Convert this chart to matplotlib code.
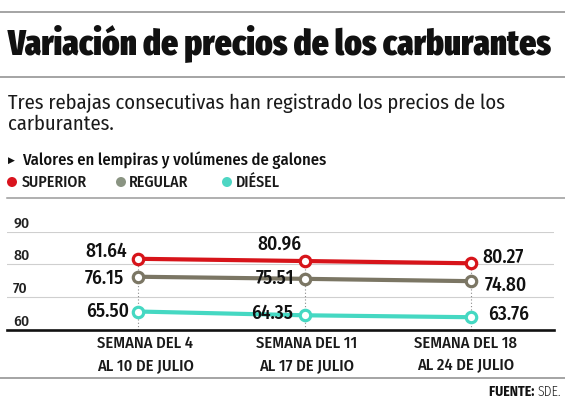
import matplotlib
matplotlib.use("Agg")
import matplotlib.pyplot as plt
from matplotlib.lines import Line2D
from matplotlib.patches import Ellipse

# ---------------- data ----------------
weeks = ["SEMANA DEL 4\nAL 10 DE JULIO", "SEMANA DEL 11\nAL 17 DE JULIO", "SEMANA DEL 18\nAL 24 DE JULIO"]
superior = [81.64, 80.96, 80.27]
regular = [76.15, 75.51, 74.80]
diesel = [65.50, 64.35, 63.76]
y_ticks = [60, 70, 80, 90]
series_names = ["SUPERIOR", "REGULAR", "DIÉSEL"]

title = "Variación de precios de los carburantes"
subtitle1 = "Tres rebajas consecutivas han registrado los precios de los"
subtitle2 = "carburantes."
units = "Valores en lempiras y volúmenes de galones"

# ---------------- style ----------------
FONT_T = ["Fira Sans Extra Condensed", "DejaVu Sans"]
FONT = ["Fira Sans Condensed", "DejaVu Sans"]

line_colors = ["#D7141A", "#7B7664", "#45D8C2"]
legend_colors = ["#D9141E", "#8A9482", "#4ED6C3"]

W, H = 565, 400
fig = plt.figure(figsize=(W / 100, H / 100), dpi=100)
fig.patch.set_facecolor("white")
renderer = fig.canvas.get_renderer()


def fx(x):
    return x / W


def fy(y):
    return 1 - y / H


def fit(t, width):
    bb = t.get_window_extent(renderer)
    t.set_fontsize(t.get_fontsize() * width / bb.width)
    return t


def hline(y, x0, x1, color="#8C8C8C", lw=1.1):
    fig.add_artist(Line2D([fx(x0), fx(x1)], [fy(y), fy(y)], transform=fig.transFigure,
                          color=color, lw=lw))


# ---------------- header ----------------
hline(12, 0, 565)
hline(77, 0, 565)
hline(198, 7, 565, color="#9A9A9A")
hline(378, 0, 565)

t = fig.text(fx(8), fy(54), title, family=FONT_T, fontweight=900, fontsize=20,
             va="baseline", ha="left", color="#111111")
fit(t, 544)

t1 = fig.text(fx(8), fy(109), subtitle1, family=FONT, fontweight="normal", fontsize=14,
              va="baseline", ha="left", color="#1a1a1a")
fit(t1, 500)
fig.text(fx(8), fy(130), subtitle2, family=FONT, fontsize=t1.get_fontsize(), va="baseline",
         ha="left", color="#1a1a1a")

fig.text(fx(8), fy(160), "▶", family=["DejaVu Sans"], fontsize=6.5, va="center",
         ha="left", color="#111111")
tu = fig.text(fx(22), fy(165), units, family=FONT, fontweight=500, fontsize=11,
              va="baseline", ha="left", color="#111111")
fit(tu, 306)

# legend
leg_circle_x = [12, 121, 227]
leg_text_x = [22, 129, 236]
lt = None
for i, name in enumerate(series_names):
    fig.add_artist(Ellipse((fx(leg_circle_x[i]), fy(182)), 10 / W, 10 / H,
                           transform=fig.transFigure, facecolor=legend_colors[i],
                           edgecolor="none"))
    txt = fig.text(fx(leg_text_x[i]), fy(182), name, family=FONT, fontweight=500,
                   fontsize=10, va="center", ha="left", color="#1a1a1a")
    if i == 0:
        fit(txt, 65)
        lt = txt.get_fontsize()
    else:
        txt.set_fontsize(lt)

# ---------------- chart ----------------
left, right = 7, 554
top, bottom = 231.5, 329.5
ax = fig.add_axes([fx(left), fy(bottom), (right - left) / W, (bottom - top) / H])
ax.set_xlim(-0.79, 2.5)
ax.set_ylim(60, 90)
ax.axis("off")

xs = list(range(len(weeks)))

for v in y_ticks[1:]:
    ax.axhline(v, color="#CFCFCF", lw=0.8, zorder=0)
ax.axhline(60, color="#111111", lw=1.9, zorder=5, clip_on=False)

tops = [max(a, b, c) for a, b, c in zip(superior, regular, diesel)]
ax.vlines(xs, 60, tops, colors="#8A8A8A", linestyles=(0, (1, 2)), lw=0.8, zorder=1)

all_series = [superior, regular, diesel]
for vals, col in zip(all_series, line_colors):
    ax.plot(xs, vals, color=col, lw=3.0, marker="o", markersize=7.5,
            markerfacecolor="white", markeredgecolor=col, markeredgewidth=2.3,
            zorder=3, solid_capstyle="butt")

# value labels: (dx px, dy px, ha)
label_offsets = [
    [(-11, 7, "right"), (-25, 17, "center"), (12, 6, "left")],
    [(-14, -2, "right"), (-10, 1, "right"), (14, -4, "left")],
    [(-9, 0, "right"), (-11, 2, "right"), (17, 2.5, "left")],
]
vfs = None
for si, vals in enumerate(all_series):
    for i, v in enumerate(vals):
        dx, dy, ha = label_offsets[si][i]
        a = ax.annotate(f"{v:.2f}", (xs[i], v), xytext=(dx, dy), textcoords="offset pixels",
                        ha=ha, va="center", family=FONT, fontweight=500,
                        fontsize=12, color="#111111", zorder=6)
        if vfs is None:
            fit(a, 42)
            vfs = a.get_fontsize()
        else:
            a.set_fontsize(vfs)

# y tick labels
ytf = None
for v in y_ticks:
    a = ax.annotate(str(v), (0.011, v), xycoords=ax.get_yaxis_transform(),
                    xytext=(0, 8), textcoords="offset pixels", ha="left", va="center",
                    family=FONT, fontweight=500, fontsize=9, color="#222222")
    if ytf is None:
        fit(a, 16)
        ytf = a.get_fontsize()
    else:
        a.set_fontsize(ytf)

# x labels
xl_dx = [7, 2, -5]
xfs = None
for i, lab in enumerate(weeks):
    a = ax.annotate(lab, (xs[i], 60), xytext=(xl_dx[i], -25), textcoords="offset pixels",
                    ha="center", va="center", family=FONT, fontweight=500,
                    fontsize=10, color="#1a1a1a", linespacing=1.45, multialignment="center")
    if xfs is None:
        line1 = fig.text(0, 0, lab.split("\n")[0], family=FONT, fontweight=500, fontsize=10)
        bb = line1.get_window_extent(renderer)
        xfs = 10 * 96 / bb.width
        line1.remove()
    a.set_fontsize(xfs)

# source
sx, sy = 561, 392
s2 = fig.text(fx(sx), fy(sy), "SDE.", family=FONT, fontweight=300, fontsize=10,
              va="center", ha="right", color="#222222")
s1 = fig.text(fx(sx), fy(sy), "FUENTE: ", family=FONT, fontweight="bold", fontsize=10,
              va="center", ha="right", color="#111111")
w1 = s1.get_window_extent(renderer).width
w2 = s2.get_window_extent(renderer).width
k = 72 / (w1 + w2)
s1.set_fontsize(10 * k)
s2.set_fontsize(10 * k)
w2 = s2.get_window_extent(renderer).width
s1.set_position((fx(sx - w2), fy(sy)))

fig.savefig("out.png", dpi=100)
